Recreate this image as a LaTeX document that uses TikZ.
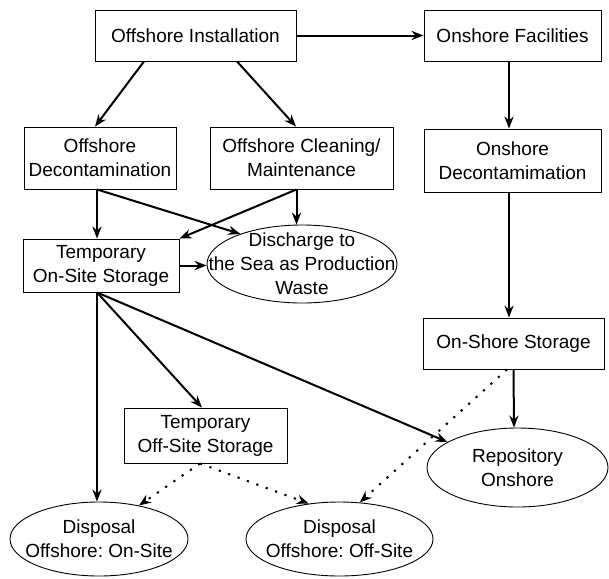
\documentclass[tikz,border=0pt]{standalone}
\usepackage{fontspec}
\setmainfont{Liberation Sans}
\frenchspacing
\usetikzlibrary{arrows.meta,calc,shapes.geometric}
\tikzset{
  box/.style={draw,line width=0.45pt,inner sep=0pt,align=center,font=\fontsize{9.5}{12}\selectfont},
  oval/.style={box,ellipse,inner xsep=-30pt,inner ysep=-12pt},
  pfeil/.style={line width=1pt,-{Stealth[length=6pt,width=4.6pt]}},
  punkt/.style={pfeil,dash pattern=on 1.1pt off 3.9pt},
}
\begin{document}
\begin{tikzpicture}[x=0.5pt,y=-0.5pt]
\useasboundingbox (0,0) rectangle (609,578);
%Kaesten (Koordinaten in Pixel des Originals)
\node[box,minimum width=100.5pt,minimum height=25.5pt] (inst) at (195.5,35.5) {Offshore Installation};
\node[box,minimum width=88.5pt,minimum height=25.5pt] (facil) at (512.5,35.5) {Onshore Facilities};
\node[box,minimum width=76pt,minimum height=31pt] (offdec) at (100,158) {Offshore\\Decontamination};
\node[box,minimum width=91.5pt,minimum height=31pt] (clean) at (301.5,158) {Offshore Cleaning/\\Maintenance};
\node[box,minimum width=88.5pt,minimum height=31.5pt] (ondec) at (512.5,160.5) {Onshore\\Decontamimation};
\node[box,minimum width=78pt,minimum height=26.5pt] (tmpon) at (101,265.5) {Temporary\\On-Site Storage};
\node[oval,minimum width=95pt,minimum height=39pt] (disch) at (302,264) {Discharge to\\the Sea as Production\\Waste};
\node[box,minimum width=90.5pt,minimum height=25.5pt] (onstor) at (513.5,343.5) {On-Shore Storage};
\node[box,minimum width=81.5pt,minimum height=27.5pt] (tmpoff) at (205.5,435.5) {Temporary\\Off-Site Storage};
\node[oval,minimum width=90.5pt,minimum height=39.5pt] (repo) at (517.5,467.5) {Repository\\Onshore};
\node[oval,minimum width=89pt,minimum height=37pt] (dispon) at (99,539) {Disposal\\Offshore: On-Site};
\node[oval,minimum width=93.5pt,minimum height=37pt] (dispoff) at (339.5,539) {Disposal\\Offshore: Off-Site};
%Pfeile
\draw[pfeil] (inst.east) -- (facil.west);
\draw[pfeil] ($(inst.south)+(-51.5,0)$) -- ($(offdec.north)+(-5,0)$);
\draw[pfeil] ($(inst.south)+(41.5,0)$) -- ($(clean.north)+(-5.5,0)$);
\draw[pfeil] ($(facil.south)+(-3.5,0)$) -- ($(ondec.north)+(-3.5,0)$);
\draw[pfeil] ($(offdec.south)+(-3,0)$) -- ($(tmpon.north)+(-4,0)$);
\draw[pfeil] ($(offdec.south)+(-3,0)$) -- (disch.154);
\draw[pfeil] ($(clean.south)+(-5,0)$) -- ($(disch.north)+(-5.5,0)$);
\draw[pfeil] ($(clean.south)+(-5,0)$) -- (tmpon.north east);
\draw[pfeil] (tmpon.east) -- (tmpon.east -| disch.west);
\draw[pfeil] ($(tmpon.south)+(-4,0)$) -- ($(dispon.north)+(-2,0)$);
\draw[pfeil] ($(tmpon.south)+(-4,0)$) -- ($(tmpoff.north)+(-3.5,0)$);
\draw[pfeil] ($(tmpon.south)+(-4,0)$) -- (repo.160);
\draw[pfeil] ($(ondec.south)+(-3.5,0)$) -- ($(onstor.north)+(-4.5,0)$);
\draw[pfeil] (onstor.south) -- ($(repo.north)+(-3.5,0)$);
\draw[punkt] ($(onstor.south)+(-6.5,0)$) -- (dispoff.61);
\draw[punkt] ($(tmpoff.south)+(-5.5,0)$) -- (dispon.40);
\draw[punkt] ($(tmpoff.south)+(-5.5,0)$) -- (dispoff.131);
\end{tikzpicture}
\end{document}
